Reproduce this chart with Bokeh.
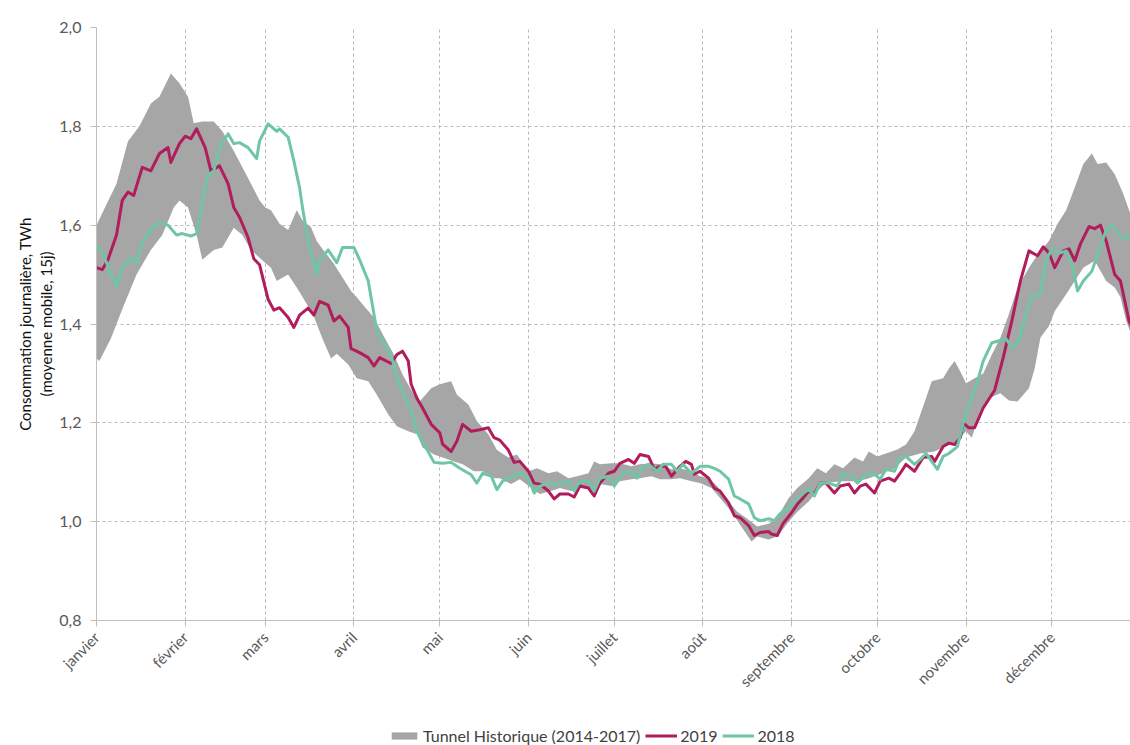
import math
from bokeh.plotting import figure
from bokeh.layouts import column
from bokeh.models import Range1d, FixedTicker, Legend, LegendItem
from bokeh.embed import file_html
from bokeh.resources import INLINE

# ---- axis data ----
months = ["janvier", "février", "mars", "avril", "mai", "juin", "juillet",
          "août", "septembre", "octobre", "novembre", "décembre"]
month_start_days = [0, 31, 59, 90, 120, 151, 181, 212, 243, 273, 304, 334]
y_ticks = [0.8, 1.0, 1.2, 1.4, 1.6, 1.8, 2.0]
y_tick_labels = ["0,8", "1,0", "1,2", "1,4", "1,6", "1,8", "2,0"]

# ---- historical tunnel (2014-2017): upper and lower envelope ----
tunnel_upper_days = [0, 2.5, 7, 11, 15, 19, 22, 26, 29, 32, 34, 37, 41, 44, 48, 51, 54, 57, 59, 61,
                     64, 67, 70, 72, 75, 77, 79, 83, 86, 89, 91, 93, 97, 100, 104, 107, 111, 113,
                     117, 120, 124, 126, 130, 133, 137, 140, 144, 147, 151, 154, 158, 161, 165,
                     168, 172, 174, 176, 180, 183, 187, 190, 194, 197, 201, 204, 208, 211, 214,
                     217, 221, 224, 228, 231, 235, 238, 242, 245, 249, 252, 255, 258, 261, 265,
                     268, 270, 273, 276, 280, 283, 286, 288, 290, 292, 296, 298, 300, 302, 304,
                     307, 310, 313, 316, 319, 322, 326, 329, 333, 336, 339, 342, 345, 348, 350,
                     353, 356, 359, 361, 363]
tunnel_upper = [1.60, 1.63, 1.684, 1.77, 1.80, 1.846, 1.86, 1.907, 1.887, 1.86, 1.806, 1.81, 1.81,
                1.79, 1.75, 1.717, 1.684, 1.65, 1.636, 1.63, 1.603, 1.59, 1.63, 1.61, 1.596, 1.568,
                1.552, 1.522, 1.494, 1.467, 1.454, 1.44, 1.413, 1.38, 1.338, 1.298, 1.257, 1.243,
                1.27, 1.278, 1.284, 1.257, 1.237, 1.203, 1.177, 1.145, 1.13, 1.136, 1.102, 1.108,
                1.098, 1.102, 1.088, 1.092, 1.098, 1.122, 1.116, 1.118, 1.118, 1.112, 1.116,
                1.118, 1.116, 1.106, 1.108, 1.102, 1.092, 1.088, 1.072, 1.041, 1.02, 1.004, 0.99,
                0.996, 1.008, 1.048, 1.068, 1.088, 1.108, 1.098, 1.116, 1.108, 1.13, 1.122, 1.142,
                1.132, 1.138, 1.146, 1.156, 1.183, 1.217, 1.25, 1.284, 1.29, 1.31, 1.325, 1.304,
                1.28, 1.29, 1.30, 1.338, 1.372, 1.42, 1.474, 1.514, 1.54, 1.568, 1.603, 1.63,
                1.676, 1.724, 1.745, 1.724, 1.727, 1.703, 1.663, 1.63, 1.60]

tunnel_lower_days = [0, 1, 5, 9, 14, 19, 23, 27, 29, 32, 35, 37, 41, 44, 48, 51, 54, 57, 61, 63, 67,
                     70, 72, 76, 79, 82, 84, 88, 91, 95, 98, 102, 105, 109, 112, 114, 118, 121, 125,
                     128, 132, 135, 139, 141, 145, 148, 152, 155, 159, 162, 166, 169, 173, 176, 180,
                     183, 187, 190, 194, 197, 201, 204, 208, 211, 215, 218, 222, 225, 229, 231, 235,
                     238, 242, 245, 249, 252, 255, 260, 265, 269, 274, 279, 283, 288, 293, 298, 301,
                     304, 306, 309, 312, 316, 319, 322, 326, 328, 330, 333, 335, 339, 342, 345, 349,
                     351, 353, 356, 358, 360, 362]
tunnel_lower = [1.33, 1.325, 1.37, 1.43, 1.50, 1.55, 1.58, 1.636, 1.65, 1.636, 1.58, 1.53, 1.55,
                1.555, 1.595, 1.58, 1.55, 1.534, 1.514, 1.487, 1.50, 1.474, 1.455, 1.415, 1.37,
                1.33, 1.34, 1.318, 1.29, 1.284, 1.257, 1.217, 1.193, 1.183, 1.177, 1.15, 1.136,
                1.13, 1.122, 1.116, 1.102, 1.102, 1.088, 1.088, 1.076, 1.086, 1.068, 1.056, 1.062,
                1.068, 1.062, 1.068, 1.066, 1.076, 1.072, 1.082, 1.086, 1.088, 1.092, 1.086, 1.086,
                1.088, 1.082, 1.078, 1.068, 1.048, 1.02, 0.994, 0.96, 0.97, 0.964, 0.97, 1.0,
                1.02, 1.041, 1.062, 1.078, 1.082, 1.082, 1.086, 1.096, 1.108, 1.13, 1.138, 1.142,
                1.156, 1.163, 1.183, 1.17, 1.223, 1.25, 1.26, 1.245, 1.243, 1.27, 1.31, 1.372,
                1.396, 1.426, 1.46, 1.487, 1.514, 1.528, 1.507, 1.487, 1.474, 1.454, 1.406, 1.375]

# ---- 2019 ----
days_2019 = [0, 2, 4, 7, 9, 11, 13, 16, 19, 22, 25, 26, 29, 31, 33, 35, 38, 40, 43, 46, 48, 50, 53,
             55, 57, 60, 62, 64, 67, 69, 71, 74, 76, 78, 81, 83, 85, 88, 89, 92, 95, 97, 99, 103,
             105, 107, 109, 110, 112, 114, 117, 120, 121, 124, 126, 128, 131, 134, 137, 139, 141,
             144, 146, 148, 151, 153, 155, 158, 160, 162, 165, 167, 169, 172, 174, 176, 179, 181,
             183, 186, 188, 190, 193, 195, 197, 199, 201, 204, 206, 208, 209, 211, 214, 216, 218,
             221, 223, 225, 228, 230, 232, 235, 236, 238, 240, 243, 245, 247, 249, 251, 253, 255,
             258, 260, 263, 265, 267, 269, 272, 274, 277, 279, 281, 283, 286, 289, 292, 293, 296,
             298, 300, 302, 303, 305, 307, 310, 314, 317, 320, 323, 326, 329, 331, 333, 335, 338,
             340, 342, 344, 347, 349, 351, 353, 356, 358, 360, 361, 363]
cons_2019 = [1.514, 1.51, 1.53, 1.58, 1.65, 1.667, 1.66, 1.717, 1.71, 1.745, 1.757, 1.727, 1.765,
             1.78, 1.775, 1.795, 1.757, 1.71, 1.72, 1.684, 1.636, 1.616, 1.575, 1.532, 1.52, 1.45,
             1.428, 1.433, 1.413, 1.393, 1.418, 1.432, 1.418, 1.446, 1.438, 1.406, 1.416, 1.393,
             1.35, 1.342, 1.332, 1.315, 1.332, 1.32, 1.338, 1.345, 1.325, 1.278, 1.25, 1.23, 1.197,
             1.18, 1.157, 1.142, 1.163, 1.197, 1.183, 1.186, 1.19, 1.17, 1.165, 1.145, 1.12,
             1.122, 1.102, 1.078, 1.076, 1.062, 1.046, 1.056, 1.056, 1.05, 1.072, 1.068, 1.052,
             1.078, 1.098, 1.102, 1.118, 1.126, 1.118, 1.136, 1.132, 1.106, 1.112, 1.112, 1.092,
             1.112, 1.122, 1.116, 1.096, 1.102, 1.088, 1.068, 1.062, 1.038, 1.012, 1.008, 0.992,
             0.972, 0.978, 0.98, 0.975, 0.972, 0.996, 1.018, 1.035, 1.048, 1.062, 1.056, 1.078,
             1.078, 1.058, 1.072, 1.076, 1.058, 1.072, 1.076, 1.058, 1.082, 1.088, 1.082, 1.098,
             1.116, 1.102, 1.13, 1.132, 1.122, 1.152, 1.159, 1.156, 1.17, 1.2, 1.19, 1.19, 1.23,
             1.266, 1.332, 1.406, 1.487, 1.548, 1.538, 1.556, 1.544, 1.514, 1.548, 1.552, 1.528,
             1.562, 1.597, 1.593, 1.60, 1.568, 1.50, 1.487, 1.433, 1.406, 1.38]

# ---- 2018 ----
days_2018 = [0, 2.5, 5, 7, 9, 12, 14, 16, 19, 22, 25, 28, 30, 33, 35, 37, 39, 41, 43, 46, 48, 50,
             53, 56, 57, 60, 63, 64, 67, 69, 71, 72, 74, 77, 78, 81, 84, 86, 90, 92, 95, 97, 98,
             100, 103, 105, 107, 110, 112, 114, 118, 121, 124, 127, 131, 133, 135, 138, 140, 142,
             144, 146, 148, 151, 153, 155, 158, 160, 162, 165, 167, 169, 172, 174, 176, 179, 181,
             184, 187, 189, 191, 193, 196, 198, 201, 203, 205, 208, 211, 214, 216, 218, 221, 223,
             225, 228, 230, 232, 235, 237, 239, 242, 244, 246, 249, 251, 253, 256, 259, 261, 264,
             266, 269, 272, 274, 276, 279, 281, 283, 286, 288, 290, 294, 296, 298, 301, 303, 306,
             308, 310, 313, 315, 318, 320, 322, 325, 327, 330, 332, 334, 337, 339, 341, 343, 345,
             348, 350, 353, 355, 357, 359, 361, 363]
cons_2018 = [1.56, 1.54, 1.50, 1.477, 1.514, 1.534, 1.524, 1.565, 1.593, 1.605, 1.60, 1.58, 1.583,
             1.578, 1.583, 1.65, 1.70, 1.71, 1.757, 1.785, 1.765, 1.767, 1.757, 1.735, 1.77,
             1.805, 1.79, 1.795, 1.778, 1.73, 1.676, 1.636, 1.568, 1.50, 1.53, 1.55, 1.524, 1.555,
             1.555, 1.53, 1.487, 1.42, 1.386, 1.365, 1.338, 1.29, 1.264, 1.223, 1.183, 1.162,
             1.12, 1.118, 1.12, 1.108, 1.095, 1.078, 1.098, 1.092, 1.065, 1.082, 1.088, 1.092,
             1.098, 1.088, 1.058, 1.072, 1.078, 1.076, 1.076, 1.082, 1.062, 1.082, 1.082, 1.062,
             1.088, 1.092, 1.072, 1.098, 1.102, 1.088, 1.112, 1.116, 1.102, 1.116, 1.116, 1.102,
             1.116, 1.098, 1.112, 1.112, 1.108, 1.102, 1.086, 1.052, 1.046, 1.036, 1.008, 1.002,
             1.006, 1.002, 1.016, 1.028, 1.041, 1.052, 1.066, 1.052, 1.078, 1.078, 1.072, 1.096,
             1.092, 1.078, 1.096, 1.096, 1.086, 1.106, 1.102, 1.13, 1.132, 1.116, 1.126, 1.138,
             1.106, 1.132, 1.138, 1.152, 1.2, 1.25, 1.284, 1.325, 1.362, 1.365, 1.37, 1.352,
             1.358, 1.42, 1.456, 1.462, 1.528, 1.552, 1.544, 1.548, 1.522, 1.467, 1.487, 1.507,
             1.54, 1.59, 1.60, 1.583, 1.575, 1.575, 1.575]

GRAY_BAND = "#a6a6a6"
C2019 = "#b01c5c"
C2018 = "#6fc6a6"
FONT = "Lato"
W = 1130

p = figure(width=W, height=712,
           x_range=Range1d(0, 361.5), y_range=Range1d(0.8, 2.0),
           output_backend="svg", toolbar_location=None,
           min_border_left=96, min_border_right=0, min_border_top=27, min_border_bottom=92)
p.outline_line_color = None
p.background_fill_color = "white"

band_x = tunnel_upper_days + tunnel_lower_days[::-1]
band_y = tunnel_upper + tunnel_lower[::-1]


def draw_series(fig):
    rb = fig.patch(band_x, band_y, fill_color=GRAY_BAND, line_color=None)
    r1 = fig.line(days_2019, cons_2019, line_color=C2019, line_width=3, line_join="round")
    r2 = fig.line(days_2018, cons_2018, line_color=C2018, line_width=3, line_join="round")
    return rb, r1, r2


draw_series(p)

# axes
p.xaxis.ticker = FixedTicker(ticks=month_start_days)
p.xaxis.major_label_overrides = dict(zip(month_start_days, months))
p.xaxis.major_label_orientation = math.pi / 4
p.yaxis.ticker = FixedTicker(ticks=y_ticks)
p.yaxis.major_label_overrides = dict(zip(y_ticks, y_tick_labels))

for ax in (p.xaxis[0], p.yaxis[0]):
    ax.axis_line_color = "#bfbfbf"
    ax.axis_line_width = 1
    ax.major_tick_line_color = "#bfbfbf"
    ax.major_tick_out = 6
    ax.major_tick_in = 0
    ax.minor_tick_line_color = None
    ax.major_label_text_font = FONT
    ax.major_label_text_color = "#595959"

p.xaxis.major_label_text_font_size = "15px"
p.yaxis.major_label_text_font_size = "16px"
p.xaxis.major_label_standoff = 8
p.yaxis.major_label_standoff = 9
p.yaxis.axis_label = "Consommation journalière, TWh\n(moyenne mobile, 15j)"
p.yaxis.axis_label_text_font = FONT
p.yaxis.axis_label_text_font_size = "15px"
p.yaxis.axis_label_text_font_style = "normal"
p.yaxis.axis_label_text_color = "#111111"
p.yaxis.axis_label_standoff = 1

p.grid.grid_line_color = "#b8b8b8"
p.grid.grid_line_dash = "3 3"
p.grid.grid_line_width = 1

# ---- legend strip below the chart (same series, drawn out of its view) ----
leg = figure(width=W, height=33, x_range=Range1d(0, 1), y_range=Range1d(10, 11),
             x_axis_type=None, y_axis_type=None,
             output_backend="svg", toolbar_location=None,
             min_border_left=96, min_border_right=0, min_border_top=0, min_border_bottom=0)
leg.outline_line_color = None
lg_band, lg_19, lg_18 = draw_series(leg)

legend = Legend(items=[
    LegendItem(label="Tunnel Historique (2014-2017)", renderers=[lg_band]),
    LegendItem(label="2019", renderers=[lg_19]),
    LegendItem(label="2018", renderers=[lg_18]),
], orientation="horizontal", location=(292, 0))
legend.label_text_font = FONT
legend.label_text_font_size = "16px"
legend.label_text_color = "#404040"
legend.glyph_width = 32
legend.glyph_height = 9
legend.label_standoff = 3
legend.spacing = 5
legend.padding = 0
legend.margin = 0
legend.border_line_color = None
legend.background_fill_alpha = 0
leg.add_layout(legend, "center")

layout = column(p, leg, spacing=0)
open("out.html", "w").write(file_html(layout, INLINE))
